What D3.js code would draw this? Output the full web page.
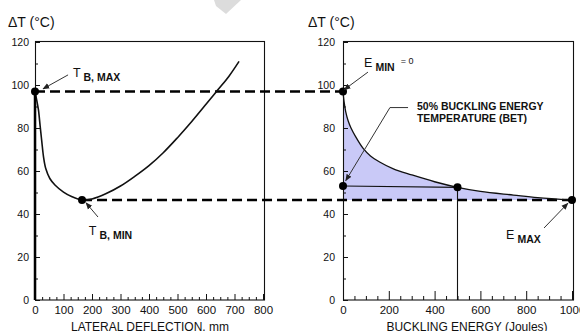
<!DOCTYPE html>
<html>
<head>
<meta charset="utf-8">
<script src="https://cdn.jsdelivr.net/npm/d3@7"></script>
<style>
  html, body { margin: 0; padding: 0; background: #fff; }
  svg { display: block; font-family: "Liberation Sans", Arial, sans-serif; }
  .axis path, .axis line { stroke: #111; }
  .axis text { fill: #111; font-size: 10.5px; font-family: "Liberation Sans", Arial, sans-serif; }
</style>
</head>
<body>
<svg id="chart" width="580" height="331"></svg>
<script>
'use strict';

// Left panel: lateral deflection (mm) vs temperature rise (°C)
const deflection = [0, 6, 12, 18, 24, 30, 38, 52, 70, 100, 130, 165, 200, 250, 300, 350, 400, 450, 500, 550, 600, 640, 680, 716];
const deflTemp   = [97, 93, 88.5, 81, 73.5, 66.5, 61, 56.5, 53.5, 50.2, 48, 46.5, 47, 49.5, 53, 57.5, 62.5, 68.5, 75.5, 83, 91, 97.5, 104, 111];
const preBuckle  = [0, 97];           // zero deflection below T_B,MAX

// Right panel: buckling energy (J) vs temperature rise (°C)
const energy     = [0, 5, 12, 22, 35, 55, 88, 120, 160, 220, 300, 400, 500, 600, 744, 850, 1000];
const energyTemp = [97, 92, 87.5, 83.5, 80, 76, 70.5, 67, 64.2, 61, 58.2, 55, 52.4, 50.5, 48.8, 47.6, 46.5];

const T_MAX = 97, T_MIN = 46.5, D_AT_MIN = 165;
const BET_E = 500, BET_T = 52.4, BET_T_AXIS = 53;
const E_MAX = 1000;

const yTicks = [0, 20, 40, 60, 80, 100, 120];
const yMinor = [10, 30, 50, 70, 90, 110];
const xLeftTicks = [0, 100, 200, 300, 400, 500, 600, 700, 800];
const xRightTicks = [0, 200, 400, 600, 800, 1000];

const svg = d3.select('#chart');

const y = d3.scaleLinear([0, 120], [300, 42]);
const xL = d3.scaleLinear([0, 800], [35, 263]);
const xR = d3.scaleLinear([0, 1000], [343, 572]);

// faint watermark fragment at top
svg.append('path').attr('d', 'M214,0 L241,0 L226,14 L216,6 Z').attr('fill', '#dcdcdc');

// shaded energy area (right)
const smooth = d3.curveCatmullRom.alpha(0.5);
const area = d3.area()
    .x(d => xR(d[0])).y0(y(T_MIN)).y1(d => y(d[1]))
    .curve(smooth);
svg.append('path').datum(d3.zip(energy, energyTemp))
    .attr('d', area).attr('fill', '#c9c9f7');

function drawAxes(x, ticks, minorStep, majorLen, minorLen, yPad) {
    const minor = d3.range(x.domain()[0], x.domain()[1] + 1, minorStep).filter(v => !ticks.includes(v));
    svg.append('g').attr('class', 'axis').attr('transform', 'translate(0,300)')
        .call(d3.axisBottom(x).tickValues(minor).tickSizeInner(-minorLen).tickSizeOuter(0).tickFormat(''))
        .call(g => g.select('.domain').remove());
    svg.append('g').attr('class', 'axis').attr('transform', 'translate(0,300)')
        .call(d3.axisBottom(x).tickValues(ticks).tickSizeInner(-majorLen).tickSizeOuter(0)
            .tickPadding(6).tickFormat(d3.format('d')))
        .call(g => g.select('.domain').remove())
        .call(g => g.selectAll('text').style('font-size', '11.5px'));
    svg.append('g').attr('class', 'axis').attr('transform', `translate(${x.range()[0]},0)`)
        .call(d3.axisLeft(y).tickValues(yMinor).tickSizeInner(-3).tickSizeOuter(0).tickFormat(''))
        .call(g => g.select('.domain').remove());
    svg.append('g').attr('class', 'axis').attr('transform', `translate(${x.range()[0]},0)`)
        .call(d3.axisLeft(y).tickValues(yTicks).tickSizeInner(-5).tickSizeOuter(0).tickPadding(yPad))
        .call(g => g.select('.domain').remove());
    svg.append('rect')
        .attr('x', x.range()[0] + 0.5).attr('y', y(120) - 0.5)
        .attr('width', x.range()[1] - x.range()[0] + 1).attr('height', y(0) - y(120) + 0.5)
        .attr('fill', 'none').attr('stroke', '#111').attr('stroke-width', 1.1);
}
drawAxes(xL, xLeftTicks, 25, 6, 3, 6);
drawAxes(xR, xRightTicks, 50, 9, 4, 8);

// dashed connectors
const hline = (x1, x2, t) => svg.append('line')
    .attr('x1', x1).attr('x2', x2).attr('y1', y(t)).attr('y2', y(t))
    .attr('stroke', '#000').attr('stroke-width', 2.6).attr('stroke-dasharray', '10,5');
hline(xL(0), xR(0), T_MAX);
hline(xL(D_AT_MIN), xR(E_MAX), T_MIN);

// curves
const lineL = d3.line().x(d => xL(d[0])).y(d => y(d[1])).curve(smooth);
svg.append('path').datum(d3.zip(deflection, deflTemp))
    .attr('d', lineL).attr('fill', 'none').attr('stroke', '#111').attr('stroke-width', 1.6);
svg.append('line').attr('x1', xL(0)).attr('x2', xL(0)).attr('y1', y(preBuckle[0])).attr('y2', y(preBuckle[1]))
    .attr('stroke', '#000').attr('stroke-width', 2.5);

const lineR = d3.line().x(d => xR(d[0])).y(d => y(d[1])).curve(smooth);
svg.append('path').datum(d3.zip(energy, energyTemp))
    .attr('d', lineR).attr('fill', 'none').attr('stroke', '#111').attr('stroke-width', 1.3);

// BET construction lines
svg.append('line').attr('x1', xR(0)).attr('y1', y(BET_T_AXIS)).attr('x2', xR(BET_E)).attr('y2', y(BET_T))
    .attr('stroke', '#111').attr('stroke-width', 1.1);
svg.append('line').attr('x1', xR(BET_E)).attr('y1', y(BET_T)).attr('x2', xR(BET_E)).attr('y2', y(0))
    .attr('stroke', '#111').attr('stroke-width', 1.1);

// dots
const dots = [[xL, 0, T_MAX], [xL, D_AT_MIN, T_MIN], [xR, 0, T_MAX], [xR, 0, BET_T_AXIS], [xR, BET_E, BET_T], [xR, E_MAX, T_MIN]];
svg.selectAll('circle.pt').data(dots).join('circle').attr('class', 'pt')
    .attr('cx', d => d[0](d[1])).attr('cy', d => y(d[2])).attr('r', 4).attr('fill', '#000');

// arrows
svg.append('defs').append('marker').attr('id', 'ah')
    .attr('viewBox', '0 0 10 10').attr('refX', 9).attr('refY', 5)
    .attr('markerWidth', 7).attr('markerHeight', 7).attr('orient', 'auto')
    .append('path').attr('d', 'M0,1 L10,5 L0,9 Z').attr('fill', '#222');
const arrow = (x, pts) => svg.append('path')
    .attr('d', d3.line()(pts.map(p => [x(p[0]), y(p[1])])))
    .attr('fill', 'none').attr('stroke', '#333').attr('stroke-width', 1).attr('marker-end', 'url(#ah)');
arrow(xL, [[116, 104.7], [28, 98.2]]);
arrow(xL, [[221, 38.6], [179, 45.2]]);
arrow(xR, [[109, 106], [5, 97.8]]);
arrow(xR, [[284, 89.5], [205, 89.5], [12, 55.5]]);
arrow(xR, [[878, 33.5], [982, 45]]);

// labels
function subLabel(x, d, t, main, sub, extra) {
    const txt = svg.append('text').attr('x', x(d)).attr('y', y(t)).attr('fill', '#111');
    txt.append('tspan').style('font-size', '12.5px').text(main);
    txt.append('tspan').attr('dx', 3).attr('dy', 4).style('font-size', '10.5px').style('font-weight', 'bold').text(sub);
    if (extra) txt.append('tspan').attr('dx', 6).attr('dy', -7).style('font-size', '9px').text(extra);
}
subLabel(xL, 133, 103.7, 'T', 'B, MAX');
subLabel(xL, 189, 30.2, 'T', 'B, MIN');
subLabel(xR, 92, 108.4, 'E', 'MIN', '= 0');
subLabel(xR, 712, 28.2, 'E', 'MAX');

svg.append('text').attr('x', xR(323)).attr('y', y(88.3))
    .style('font-size', '10.5px').style('font-weight', 'bold').attr('fill', '#111')
    .selectAll('tspan').data(['50% BUCKLING ENERGY', 'TEMPERATURE (BET)']).join('tspan')
    .attr('x', xR(323)).attr('dy', (d, i) => i ? 11.5 : 0).text(d => d);

svg.append('text').attr('x', 8).attr('y', 27).style('font-size', '14px').attr('fill', '#111').text('ΔT (°C)');
svg.append('text').attr('x', 308).attr('y', 27).style('font-size', '14px').attr('fill', '#111').text('ΔT (°C)');
svg.append('text').attr('x', 150).attr('y', 331).attr('text-anchor', 'middle')
    .style('font-size', '12px').attr('fill', '#111').text('LATERAL DEFLECTION, mm');
svg.append('text').attr('x', 467).attr('y', 331).attr('text-anchor', 'middle')
    .style('font-size', '12px').attr('fill', '#111').text('BUCKLING ENERGY (Joules)');
</script>
</body>
</html>
